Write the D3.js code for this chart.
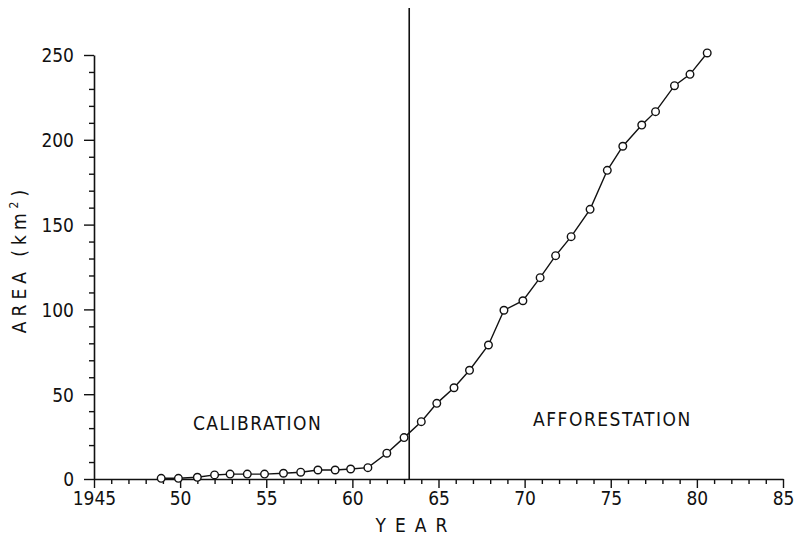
<!DOCTYPE html>
<html>
<head>
<meta charset="utf-8">
<script src="https://cdn.jsdelivr.net/npm/d3@7"></script>
<style>
  html, body { margin: 0; padding: 0; background: #fff; }
  svg { display: block; }
  text { font-family: "DejaVu Sans Condensed", "DejaVu Sans", sans-serif; font-stretch: condensed; fill: #111; }
</style>
</head>
<body>
<svg id="chart" width="798" height="536"></svg>
<script>
// ---- data ----
const years = [1948.9, 1949.9, 1951.0, 1952.0, 1952.9, 1953.9, 1954.9, 1956.0, 1957.0, 1958.0,
               1959.0, 1959.9, 1960.9, 1962.0, 1963.0, 1964.0, 1964.9, 1965.9, 1966.8, 1967.9,
               1968.8, 1969.9, 1970.9, 1971.8, 1972.7, 1973.8, 1974.8, 1975.7, 1976.8, 1977.6,
               1978.7, 1979.6, 1980.6];
const area  = [0.4, 0.4, 1.0, 2.4, 2.9, 2.9, 2.9, 3.4, 4.0, 5.3,
               5.3, 5.9, 6.7, 15.2, 24.4, 33.8, 44.6, 53.8, 64.1, 79.0,
               99.5, 105.1, 118.7, 131.7, 142.9, 159.0, 182.0, 196.2, 208.7, 216.6,
               231.9, 238.6, 251.2];
const xTickLabels = ["1945", "50", "55", "60", "65", "70", "75", "80", "85"];
const xTickValues = [1945, 1950, 1955, 1960, 1965, 1970, 1975, 1980, 1985];
const yTickValues = [0, 50, 100, 150, 200, 250];
const boundaryYear = 1963.3;
const annotations = [
  { text: "CALIBRATION",   year: 1954.5, value: 33 },
  { text: "AFFORESTATION", year: 1975.1, value: 35 }
];

// ---- scales ----
const svg = d3.select("#chart");
const x = d3.scaleLinear().domain([1945, 1985]).range([94, 783]);
const y = d3.scaleLinear().domain([0, 250]).range([479, 55]);

const ink = "#111";

// ---- x axis ----
const xMinor = d3.range(1945, 1986, 1).filter(v => (v % 5) !== 0);
const gx = svg.append("g").attr("transform", `translate(0,${y(0)})`);
gx.append("g").call(d3.axisBottom(x).tickValues(xMinor).tickSize(5).tickFormat(""))
  .call(g => g.select(".domain").remove());
gx.append("g").call(d3.axisBottom(x).tickValues(xTickValues).tickSize(9)
      .tickFormat((d, i) => xTickLabels[i]).tickSizeOuter(0))
  .call(g => g.select(".domain").attr("stroke-width", 1.6))
  .call(g => g.selectAll("text").attr("font-size", 19).attr("dy", "0.95em").attr("y", 8));
gx.selectAll("line").attr("stroke", ink).attr("stroke-width", 1.4);
gx.selectAll(".domain").attr("stroke", ink);

// ---- y axis ----
const yMinor = d3.range(0, 251, 10).filter(v => (v % 50) !== 0);
const gy = svg.append("g").attr("transform", `translate(${x(1945)},0)`);
gy.append("g").call(d3.axisLeft(y).tickValues(yMinor).tickSize(5).tickFormat(""))
  .call(g => g.select(".domain").remove());
gy.append("g").call(d3.axisLeft(y).tickValues(yTickValues).tickSize(10).tickFormat(d3.format("d")).tickSizeOuter(0))
  .call(g => g.select(".domain").attr("stroke-width", 1.6))
  .call(g => g.selectAll("text").attr("font-size", 19).attr("x", -20).attr("dy", "0.36em"));
gy.selectAll("line").attr("stroke", ink).attr("stroke-width", 1.4);
gy.selectAll(".domain").attr("stroke", ink);

// ---- boundary line ----
svg.append("line")
  .attr("x1", x(boundaryYear)).attr("x2", x(boundaryYear))
  .attr("y1", 8).attr("y2", y(0))
  .attr("stroke", ink).attr("stroke-width", 1.6);

// ---- series ----
const pts = years.map((d, i) => [d, area[i]]);
svg.append("path")
  .attr("d", d3.line().x(d => x(d[0])).y(d => y(d[1]))(pts))
  .attr("fill", "none").attr("stroke", ink).attr("stroke-width", 1.4);
svg.append("g").selectAll("circle").data(pts).join("circle")
  .attr("cx", d => x(d[0])).attr("cy", d => y(d[1])).attr("r", 3.8)
  .attr("fill", "#fff").attr("stroke", ink).attr("stroke-width", 1.4);

// ---- annotations ----
svg.append("g").selectAll("text").data(annotations).join("text")
  .attr("x", d => x(d.year)).attr("y", d => y(d.value))
  .attr("text-anchor", "middle").attr("dy", "0.36em")
  .attr("font-size", 19).attr("letter-spacing", 1.5)
  .text(d => d.text);

// ---- axis titles ----
svg.append("text").attr("x", 416).attr("y", 532)
  .attr("text-anchor", "middle").attr("font-size", 19).attr("letter-spacing", 9)
  .text("YEAR");
const yt = svg.append("text")
  .attr("transform", "translate(26,259) rotate(-90)")
  .attr("text-anchor", "middle").attr("font-size", 19).attr("letter-spacing", 5);
yt.append("tspan").text("AREA (km");
yt.append("tspan").attr("font-size", 12).attr("dy", -8).text("2");
yt.append("tspan").attr("dy", 8).text(")");
</script>
</body>
</html>
